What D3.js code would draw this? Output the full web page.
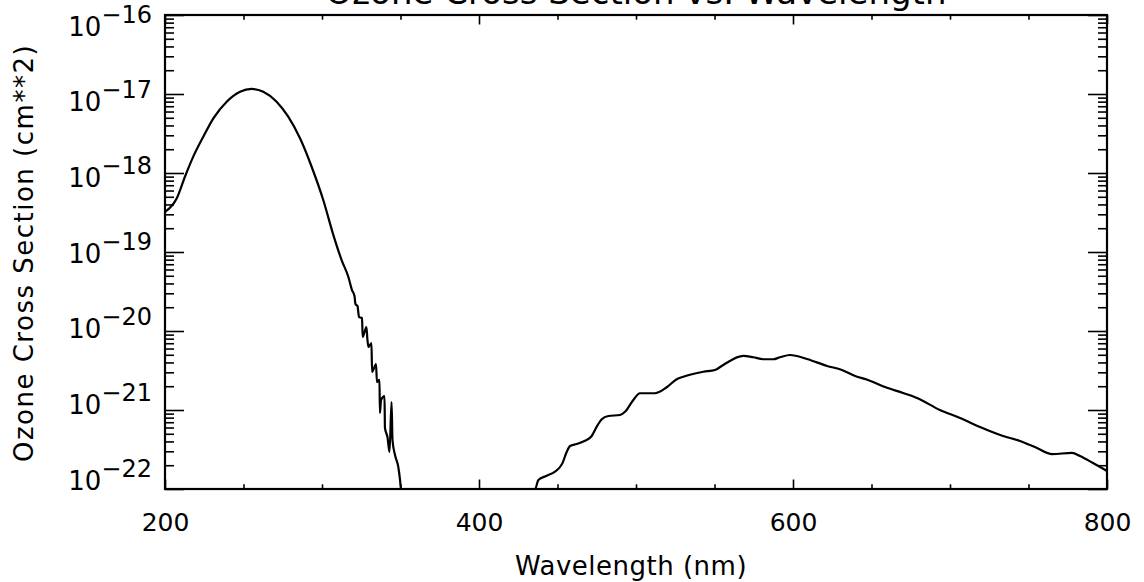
<!DOCTYPE html>
<html>
<head>
<meta charset="utf-8">
<script src="https://cdn.jsdelivr.net/npm/d3@7"></script>
<style>
  html, body { margin: 0; padding: 0; background: #fff; }
  svg { display: block; font-family: "DejaVu Sans", sans-serif; }
</style>
</head>
<body>
<svg id="chart" width="1144" height="582"></svg>
<script>
// Ozone absorption cross section: Hartley/Huggins bands, clipped floor, Chappuis band
const wavelengthNm = [
  200.0, 207.5, 212.7, 218.0, 224.4, 230.8, 239.3, 247.8, 255.2, 262.6,
  271.1, 278.5, 286.0, 293.4, 300.8, 307.2, 312.5, 316.8, 319.1, 320.7,
  321.3, 322.6, 323.6, 325.5, 325.9, 328.3, 328.9, 329.6, 331.5, 331.9,
  334.4, 335.0, 336.6, 336.9, 337.6, 339.8, 340.1, 341.7, 343.0, 344.3,
  344.9, 346.5, 348.6, 349.7, 350.3, 370.0, 400.0, 420.0, 435.7,
  437.8, 443.1, 448.4, 453.1, 455.9, 458.0, 462.2, 467.5, 471.8, 475.0,
  478.2, 482.4, 489.8, 493.0, 498.3, 502.5, 512.1, 519.6, 525.9, 530.1,
  542.9, 550.3, 555.6, 568.3, 574.7, 581.1, 587.4, 591.7, 598.1, 608.9,
  621.7, 631.2, 639.5, 647.8, 658.6, 670.1, 679.0, 693.6, 706.4, 719.1,
  733.8, 744.6, 755.4, 765.0, 777.7, 782.8, 791.1, 800.0
];
const crossSection = [
  3.21e-19, 4.79e-19, 8.97e-19, 1.61e-18, 2.88e-18, 4.92e-18, 8.00e-18, 1.07e-17, 1.16e-17, 1.07e-17,
  8.00e-18, 5.16e-18, 2.75e-18, 1.20e-18, 4.55e-19, 1.65e-19, 7.90e-20, 4.83e-20, 3.30e-20, 2.77e-20,
  2.20e-20, 2.07e-20, 1.50e-20, 1.46e-20, 8.39e-21, 1.12e-20, 7.92e-21, 6.27e-21, 7.05e-21, 3.03e-21,
  3.82e-21, 2.26e-21, 2.40e-21, 9.16e-22, 1.34e-21, 1.50e-21, 5.92e-22, 4.55e-22, 2.94e-22, 1.26e-21,
  4.17e-22, 2.69e-22, 1.90e-22, 1.30e-22, 1.00e-22, 1.00e-22, 1.00e-22, 1.00e-22, 1.00e-22,
  1.30e-22, 1.47e-22, 1.66e-22, 2.11e-22, 2.96e-22, 3.50e-22, 3.71e-22, 4.08e-22, 4.69e-22, 6.15e-22,
  7.62e-22, 8.39e-22, 8.65e-22, 9.51e-22, 1.34e-21, 1.63e-21, 1.63e-21, 1.94e-21, 2.45e-21, 2.64e-21,
  3.05e-21, 3.21e-21, 3.72e-21, 4.83e-21, 4.65e-21, 4.39e-21, 4.39e-21, 4.65e-21, 4.97e-21, 4.43e-21,
  3.61e-21, 3.21e-21, 2.69e-21, 2.40e-21, 1.95e-21, 1.64e-21, 1.42e-21, 1.00e-21, 7.92e-22, 6.10e-22,
  4.69e-22, 4.05e-22, 3.30e-22, 2.77e-22, 2.86e-22, 2.62e-22, 2.13e-22, 1.69e-22
];

// Axis ticks and labels
const xMajorTicks = [200, 400, 600, 800];
const xMinorTicks = [250, 300, 350, 450, 500, 550, 650, 700, 750];
const yDecadeExponents = [-22, -21, -20, -19, -18, -17, -16];

const titleText = "Ozone Cross Section vs. Wavelength";
const xTitle = "Wavelength (nm)";
const yTitle = "Ozone Cross Section (cm**2)";

const plot = { left: 165, right: 1107, top: 15, bottom: 489 };
const svg = d3.select("#chart");

const x = d3.scaleLinear().domain([200, 800]).range([plot.left, plot.right]);
const y = d3.scaleLog().domain([1e-22, 1e-16]).range([plot.bottom, plot.top]);
// Baselines of the decade labels: the bottom label sits on the axis, the top one just below the frame
const yLabel = d3.scaleLog().domain(y.domain()).range([plot.bottom, plot.top + 20]);

const yMajor = yDecadeExponents.map(e => Math.pow(10, e));
const yMinor = [];
yDecadeExponents.slice(0, -1).forEach(e => {
  for (let m = 2; m <= 9; m++) yMinor.push(m * Math.pow(10, e));
});

const xMajorLen = 9.5, xMinorLen = 4.7;   // ticks on horizontal axes
const yMajorLen = 19, yMinorLen = 9;      // ticks on vertical axes

function styleAxis(g) {
  g.select(".domain").remove();
  g.selectAll(".tick line").attr("stroke", "#000").attr("stroke-width", 1.6);
}

// Bottom axis with labels
svg.append("g")
  .attr("transform", `translate(0,${plot.bottom})`)
  .call(d3.axisBottom(x).tickValues(xMajorTicks).tickSizeInner(-xMajorLen).tickSizeOuter(0)
    .tickPadding(24).tickFormat(d3.format("d")))
  .call(styleAxis)
  .call(g => g.selectAll(".tick text").attr("font-size", 25).attr("fill", "#000")
    .attr("font-family", "DejaVu Sans"));
svg.append("g")
  .attr("transform", `translate(0,${plot.bottom})`)
  .call(d3.axisBottom(x).tickValues(xMinorTicks).tickSizeInner(-xMinorLen).tickSizeOuter(0).tickFormat(""))
  .call(styleAxis);

// Top axis, ticks only
svg.append("g")
  .attr("transform", `translate(0,${plot.top})`)
  .call(d3.axisTop(x).tickValues(xMajorTicks).tickSizeInner(-xMajorLen).tickSizeOuter(0).tickFormat(""))
  .call(styleAxis);
svg.append("g")
  .attr("transform", `translate(0,${plot.top})`)
  .call(d3.axisTop(x).tickValues(xMinorTicks).tickSizeInner(-xMinorLen).tickSizeOuter(0).tickFormat(""))
  .call(styleAxis);

// Left axis with power-of-ten labels
svg.append("g")
  .attr("transform", `translate(${plot.left},0)`)
  .call(d3.axisLeft(y).tickValues(yMajor).tickSizeInner(-yMajorLen).tickSizeOuter(0)
    .tickPadding(13).tickFormat(() => ""))
  .call(styleAxis)
  .call(g => g.selectAll(".tick text").each(function (d) {
    const exp = Math.round(Math.log10(d));
    const t = d3.select(this)
      .attr("font-size", 26).attr("fill", "#000")
      .attr("y", yLabel(d) - y(d)).attr("dy", 0)
      .attr("font-family", "DejaVu Sans");
    t.text(null);
    t.append("tspan").text("10");
    t.append("tspan").attr("dy", -13).attr("font-size", 24)
      .text((exp < 0 ? "\u2212" : "") + Math.abs(exp));
  }));
svg.append("g")
  .attr("transform", `translate(${plot.left},0)`)
  .call(d3.axisLeft(y).tickValues(yMinor).tickSizeInner(-yMinorLen).tickSizeOuter(0).tickFormat(""))
  .call(styleAxis);

// Right axis, ticks only
svg.append("g")
  .attr("transform", `translate(${plot.right},0)`)
  .call(d3.axisRight(y).tickValues(yMajor).tickSizeInner(-yMajorLen).tickSizeOuter(0).tickFormat(""))
  .call(styleAxis);
svg.append("g")
  .attr("transform", `translate(${plot.right},0)`)
  .call(d3.axisRight(y).tickValues(yMinor).tickSizeInner(-yMinorLen).tickSizeOuter(0).tickFormat(""))
  .call(styleAxis);

// Plot frame
svg.append("rect")
  .attr("x", plot.left).attr("y", plot.top)
  .attr("width", plot.right - plot.left).attr("height", plot.bottom - plot.top)
  .attr("fill", "none").attr("stroke", "#000").attr("stroke-width", 2.2);

// Cross-section curve
const points = wavelengthNm.map((w, i) => [w, crossSection[i]]);
const line = d3.line()
  .x(d => x(d[0]))
  .y(d => y(d[1]))
  .curve(d3.curveMonotoneX);
svg.append("path")
  .datum(points)
  .attr("d", line)
  .attr("fill", "none")
  .attr("stroke", "#000")
  .attr("stroke-width", 2.2)
  .attr("stroke-linejoin", "round");

// Titles
svg.append("text")
  .attr("x", (plot.left + plot.right) / 2).attr("y", 4)
  .attr("text-anchor", "middle").attr("font-size", 34).attr("fill", "#000")
  .text(titleText);
svg.append("text")
  .attr("x", 631).attr("y", 575)
  .attr("text-anchor", "middle").attr("font-size", 26).attr("letter-spacing", 0.5).attr("fill", "#000")
  .text(xTitle);
svg.append("text")
  .attr("transform", "translate(33,253) rotate(-90)")
  .attr("text-anchor", "middle").attr("font-size", 26).attr("letter-spacing", 1.5).attr("fill", "#000")
  .text(yTitle);
</script>
</body>
</html>
